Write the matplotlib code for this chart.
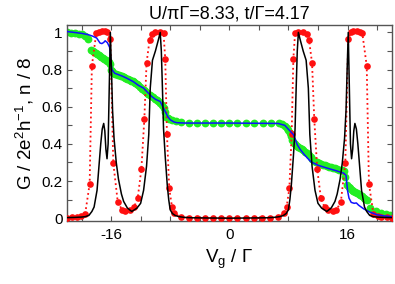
import matplotlib
matplotlib.use("Agg")
import matplotlib.pyplot as plt
from matplotlib.ticker import MultipleLocator, FixedLocator

plt.rcParams['font.family'] = ['Liberation Sans', 'DejaVu Sans']
plt.rcParams['mathtext.fontset'] = 'custom'
plt.rcParams['mathtext.rm'] = 'Liberation Sans'
plt.rcParams['mathtext.it'] = 'Liberation Sans:italic'
plt.rcParams['mathtext.bf'] = 'Liberation Sans:bold'

# ---- data ----
vg_black = [-22.0, -21.0, -20.0, -19.5, -19.0, -18.6, -18.3, -17.9, -17.6, -17.4, -17.2, -17.0,
            -16.85, -16.7, -16.55, -16.4, -16.25, -16.1, -15.95, -15.8, -15.6, -15.3, -15.0,
            -14.6, -14.3, -13.8, -13.2, -12.5, -12.0, -11.6, -11.2, -10.9, -10.7, -10.4,
            -10.0, -9.6, -9.35, -9.2, -9.05, -8.9, -8.67, -8.4, -8.2, -8.0, -7.7, -7.3,
            -6.8, -6.0, -5.0, -3.0, 0.0,
            3.0, 5.0, 6.0, 6.8, 7.3, 7.7, 8.0, 8.2, 8.4, 8.67, 8.9, 9.05, 9.2, 9.35, 9.6,
            10.0, 10.4, 10.7, 10.9, 11.2, 11.6, 12.0, 12.5, 13.2, 13.8, 14.3, 14.6, 15.0,
            15.3, 15.6, 15.8, 15.95, 16.1, 16.25, 16.4, 16.55, 16.7, 16.85, 17.0, 17.2,
            17.4, 17.6, 17.9, 18.3, 18.6, 19.0, 19.5, 20.0, 21.0, 22.0]
g_black = [0.003, 0.004, 0.006, 0.008, 0.015, 0.036, 0.06, 0.15, 0.30, 0.40, 0.48, 0.51,
           0.47, 0.37, 0.32, 0.40, 0.70, 1.0, 0.80, 0.58, 0.43, 0.30, 0.21,
           0.13, 0.09, 0.055, 0.036, 0.054, 0.08, 0.15, 0.28, 0.45, 0.70, 0.85,
           0.90, 0.96, 1.0, 0.90, 0.70, 0.48, 0.33, 0.18, 0.10, 0.045, 0.025, 0.014,
           0.008, 0.004, 0.002, 0.001, 0.0,
           0.001, 0.002, 0.004, 0.008, 0.014, 0.025, 0.045, 0.10, 0.18, 0.33, 0.48, 0.70, 0.90, 1.0, 0.96,
           0.90, 0.85, 0.70, 0.45, 0.28, 0.15, 0.08, 0.054, 0.036, 0.055, 0.09, 0.13, 0.21,
           0.30, 0.43, 0.58, 0.80, 1.0, 0.70, 0.40, 0.32, 0.37, 0.47, 0.51, 0.48,
           0.40, 0.30, 0.15, 0.06, 0.036, 0.015, 0.008, 0.006, 0.004, 0.003]

vg_red = [-22.0, -21.3, -20.6, -20.1, -19.5, -18.9, -18.6, -18.0, -17.7, -17.25, -16.8, -16.5,
          -16.1, -15.7, -15.1, -14.5, -14.1, -13.4, -12.9, -12.4, -11.9, -11.5, -11.2, -10.8,
          -10.5, -10.0, -9.35, -8.9, -8.67, -8.44, -8.13, -7.76, -7.45, -6.6, -5.5, -4.4,
          -3.3, -2.2, -1.1, 0.0,
          1.1, 2.2, 3.3, 4.4, 5.5, 6.6, 7.45, 7.76, 8.13, 8.44, 8.67, 8.9, 9.35, 10.0, 10.5,
          10.8, 11.2, 11.5, 11.9, 12.4, 12.9, 13.4, 14.1, 14.5, 15.1, 15.7, 16.1, 16.5,
          16.8, 17.25, 17.7, 18.0, 18.6, 18.9, 19.5, 20.1, 20.6, 21.3, 22.0]
g_red = [0.003, 0.004, 0.006, 0.01, 0.025, 0.185, 0.82, 0.997, 1.0, 1.005, 1.005, 1.0,
         0.966, 0.296, 0.088, 0.044, 0.041, 0.044, 0.059, 0.107, 0.264, 0.533, 0.835, 0.957,
         0.99, 1.0, 1.0, 0.995, 0.857, 0.454, 0.16, 0.062, 0.027, 0.005, 0.002, 0.001,
         0.0, 0.0, 0.0, 0.0,
         0.0, 0.0, 0.0, 0.001, 0.002, 0.005, 0.027, 0.062, 0.16, 0.454, 0.857, 0.995, 1.0, 1.0, 0.99,
         0.957, 0.835, 0.533, 0.264, 0.107, 0.059, 0.044, 0.041, 0.044, 0.088, 0.296, 0.966, 1.0,
         1.005, 1.005, 1.0, 0.997, 0.82, 0.185, 0.025, 0.01, 0.006, 0.004, 0.003]

vg_green = [-22.0, -21.4, -20.9, -20.4, -20.0, -19.5, -19.1, -18.7, -18.5, -18.3, -18.1, -17.9,
            -17.7, -17.5, -17.3, -17.1, -16.9, -16.7, -16.5, -16.3, -16.15, -16.0,
            -15.85, -15.7, -15.5, -15.3, -15.1, -14.9, -14.7, -14.5, -14.3, -14.1, -13.9, -13.7,
            -13.5, -13.3, -13.1, -12.9, -12.7, -12.5, -12.3, -12.1, -11.85, -11.6, -11.4, -11.2,
            -11.0, -10.8, -10.55, -10.3, -10.05, -9.8, -9.6, -9.35, -9.1, -8.9, -8.7, -8.5,
            -8.3, -8.1, -7.76, -7.2, -6.6, -5.5, -4.4, -3.3, -2.2,
            -1.1, 0.0, 1.1, 2.3, 3.4, 4.5, 5.6, 6.7, 7.2, 7.6, 7.8, 8.0, 8.15, 8.3, 8.5, 8.7,
            8.9, 9.1, 9.35, 9.6, 9.8, 10.0, 10.25, 10.5, 10.75, 11.0, 11.25, 11.5, 11.7, 11.9,
            12.15, 12.4, 12.65, 12.9, 13.2, 13.5, 13.8, 14.1, 14.35, 14.6, 14.85, 15.1, 15.3,
            15.5, 15.7, 15.95, 16.2, 16.4, 16.6, 16.8, 17.05, 17.3, 17.5, 17.7, 17.95, 18.2,
            18.4, 18.6, 19.1, 19.8, 20.5, 21.2, 21.8]
n_green = [1.0, 0.998, 0.997, 0.994, 0.99, 0.98, 0.965, 0.907, 0.9, 0.893, 0.888, 0.882,
           0.877, 0.872, 0.867, 0.862, 0.856, 0.85, 0.845, 0.84, 0.83, 0.80,
           0.79, 0.78, 0.777, 0.775, 0.772, 0.77, 0.766, 0.763, 0.759, 0.755, 0.751, 0.747,
           0.744, 0.74, 0.737, 0.733, 0.729, 0.725, 0.715, 0.705, 0.697, 0.69, 0.683, 0.675,
           0.669, 0.664, 0.657, 0.65, 0.643, 0.637, 0.63, 0.62, 0.607, 0.593, 0.57, 0.547,
           0.54, 0.535, 0.53, 0.525, 0.52, 0.512, 0.512, 0.512, 0.512,
           0.512, 0.512, 0.512, 0.512, 0.512, 0.512, 0.512, 0.51, 0.505, 0.497, 0.487, 0.475, 0.458, 0.44, 0.422, 0.404,
           0.397, 0.39, 0.383, 0.377, 0.371, 0.365, 0.357, 0.35, 0.34, 0.33, 0.32, 0.31, 0.305, 0.30,
           0.296, 0.292, 0.288, 0.285, 0.281, 0.277, 0.273, 0.27, 0.268, 0.265, 0.262, 0.26, 0.257,
           0.255, 0.22, 0.18, 0.17, 0.16, 0.153, 0.147, 0.141, 0.135, 0.13, 0.125, 0.117, 0.11,
           0.105, 0.10, 0.057, 0.04, 0.03, 0.022, 0.018]

vg_blue = [-22.0, -21.0, -20.0, -19.1, -18.5, -17.95, -17.5, -17.25, -17.0, -16.8, -16.5, -16.2,
           -16.05, -15.9, -15.5, -14.5, -13.9, -13.0, -12.3, -11.6, -11.0, -10.5, -10.0, -9.35,
           -9.0, -8.67, -8.3, -8.0, -7.5, -7.1, -6.0, 0.0, 6.6, 7.5, 8.2, 8.7, 9.2, 9.6, 10.2,
           11.0, 12.0, 13.2, 14.5, 15.5, 15.8, 16.0, 16.2, 16.5, 16.9, 17.2, 17.5, 18.2, 19.0,
           20.0, 21.0, 22.0]
n_blue = [1.005, 1.0, 0.995, 0.988, 0.98, 0.97, 0.943, 0.94, 0.946, 0.955, 0.945, 0.92,
          0.85, 0.80, 0.78, 0.765, 0.754, 0.735, 0.715, 0.70, 0.675, 0.655, 0.64, 0.628,
          0.60, 0.574, 0.545, 0.53, 0.518, 0.514, 0.512, 0.512, 0.51, 0.50, 0.47, 0.449, 0.395, 0.37, 0.34,
          0.305, 0.285, 0.27, 0.255, 0.242, 0.23, 0.15, 0.108, 0.085, 0.08, 0.082, 0.07, 0.05, 0.033,
          0.018, 0.012, 0.008]

x_ticks = [-16, 0, 16]
x_ticklabels = ['-16', '0', '16']
y_ticks = [0, 0.2, 0.4, 0.6, 0.8, 1.0]
y_ticklabels = ['0', '0.2', '0.4', '0.6', '0.8', '1']

# ---- figure ----
fig = plt.figure(figsize=(3.95, 2.84), dpi=100)
ax = fig.add_axes([0.169, 0.222, 0.823, 0.690])

ax.plot(vg_green, n_green, 'o', color='#22ee22', markersize=5.6, markeredgewidth=0, zorder=2)
ax.plot(vg_red, g_red, ':', color='#ff1010', lw=1.3, zorder=3)
ax.plot(vg_red, g_red, 'o', color='#ff1010', markersize=4.8, markeredgewidth=0, zorder=3)
ax.plot(vg_blue, n_blue, '-', color='#1010ff', lw=1.1, zorder=4)
ax.plot(vg_black, g_black, '-', color='black', lw=1.1, zorder=5)

ax.set_xlim(-22, 22)
ax.set_ylim(-0.015, 1.04)
ax.xaxis.set_major_locator(FixedLocator(x_ticks))
ax.set_xticklabels(x_ticklabels)
ax.xaxis.set_minor_locator(MultipleLocator(4))
ax.yaxis.set_major_locator(FixedLocator(y_ticks))
ax.set_yticklabels(y_ticklabels)
ax.yaxis.set_minor_locator(MultipleLocator(0.1))
ax.tick_params(which='both', direction='in', top=True, right=True, length=3.5,
               width=0.8, color='#555555', labelsize=11)
ax.tick_params(axis='x', pad=5)
ax.tick_params(axis='y', pad=3)
for s in ax.spines.values():
    s.set_color('#555555')
    s.set_linewidth(1.0)

ax.set_title('U/πΓ=8.33, t/Γ=4.17', fontsize=13, pad=5)
ax.set_xlabel('V$_{\\mathrm{g}}$ / Γ', fontsize=13.5, labelpad=4)
ax.set_ylabel('G / 2e$^{2}$h$^{-1}$, n / 8', fontsize=13.5, labelpad=4)

fig.savefig('out.png', dpi=100)
